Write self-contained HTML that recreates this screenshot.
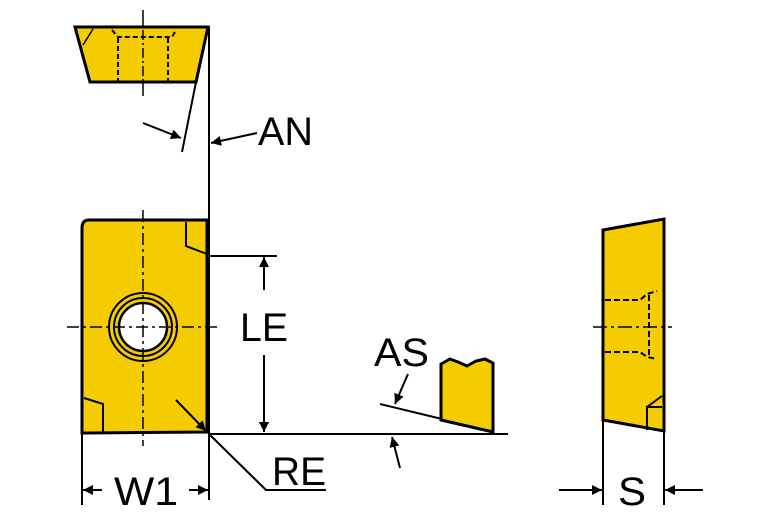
<!DOCTYPE html>
<html><head><meta charset="utf-8"><style>
html,body{margin:0;padding:0;background:#fff;}
svg{display:block;}
text{font-family:"Liberation Sans",sans-serif;fill:#000;}
</style></head><body>
<svg width="767" height="523" viewBox="0 0 767 523" xmlns="http://www.w3.org/2000/svg">
<defs>
<marker id="ah" viewBox="0 0 10 10" refX="10" refY="5" markerWidth="16" markerHeight="10" markerUnits="userSpaceOnUse" orient="auto"><path d="M0,0 L10,5 L0,10 z" fill="#000"/></marker>
</defs>
<!-- top view -->
<line x1="143" y1="10" x2="143" y2="96" stroke="#000" stroke-width="1.5"/>
<polygon points="75,27 208,27 196,82 90,82" fill="#f5cc00" stroke="#000" stroke-width="3"/>
<path d="M93,29 L83,45" stroke="#000" stroke-width="1.5" fill="none"/>
<path d="M112,30 L118,37 L172,37 L176,30" stroke="#000" stroke-width="2" stroke-dasharray="5,3" fill="none"/>
<line x1="118" y1="38" x2="118" y2="81" stroke="#000" stroke-width="2" stroke-dasharray="5,3"/>
<line x1="168" y1="38" x2="168" y2="81" stroke="#000" stroke-width="2" stroke-dasharray="5,3"/>
<line x1="143" y1="30" x2="143" y2="81" stroke="#000" stroke-width="1.5" stroke-dasharray="10,3,2,3"/>
<line x1="209" y1="27" x2="209" y2="500" stroke="#000" stroke-width="2"/>
<line x1="196" y1="82" x2="182" y2="152" stroke="#000" stroke-width="2"/>
<line x1="143" y1="123" x2="181" y2="138" stroke="#000" stroke-width="2" marker-end="url(#ah)"/>
<line x1="257" y1="133" x2="211" y2="143" stroke="#000" stroke-width="2" marker-end="url(#ah)"/>
<text x="258" y="145" font-size="40" textLength="55" lengthAdjust="spacingAndGlyphs">AN</text>
<!-- main insert -->
<path d="M89,220 L207,220 L207,432 L86,433 L82,433 L82,228 Q82,220 89,220 Z" fill="#f5cc00" stroke="#000" stroke-width="3"/>
<path d="M186,222 L186,246 L207,254" stroke="#000" stroke-width="2" fill="none"/>
<path d="M84,398 L103,404 L103,432" stroke="#000" stroke-width="2" fill="none"/>
<circle cx="143" cy="327" r="34" fill="#f5cc00" stroke="#000" stroke-width="2"/>
<circle cx="143" cy="327" r="29" fill="#f5cc00" stroke="#000" stroke-width="2"/>
<circle cx="143" cy="327" r="24" fill="#fff" stroke="#000" stroke-width="2.5"/>
<line x1="67" y1="327" x2="221" y2="327" stroke="#000" stroke-width="1.5" stroke-dasharray="12,4,3,4"/>
<line x1="143" y1="210" x2="143" y2="446" stroke="#000" stroke-width="1.5" stroke-dasharray="12,4,3,4"/>
<line x1="176" y1="400" x2="206" y2="431" stroke="#000" stroke-width="2" marker-end="url(#ah)"/>
<!-- LE -->
<line x1="209" y1="256" x2="277" y2="256" stroke="#000" stroke-width="2"/>
<line x1="209" y1="434" x2="508" y2="434" stroke="#000" stroke-width="2"/>
<line x1="264" y1="290" x2="264" y2="257" stroke="#000" stroke-width="2" marker-end="url(#ah)"/>
<line x1="264" y1="355" x2="264" y2="432" stroke="#000" stroke-width="2" marker-end="url(#ah)"/>
<text x="240" y="341" font-size="40" textLength="48" lengthAdjust="spacingAndGlyphs">LE</text>
<!-- W1 -->
<line x1="82" y1="434" x2="82" y2="505" stroke="#000" stroke-width="2"/>
<line x1="102" y1="490" x2="83" y2="490" stroke="#000" stroke-width="2" marker-end="url(#ah)"/>
<line x1="189" y1="490" x2="208" y2="490" stroke="#000" stroke-width="2" marker-end="url(#ah)"/>
<text x="114" y="505" font-size="40" textLength="64" lengthAdjust="spacingAndGlyphs">W1</text>
<!-- RE -->
<polyline points="209,434 266,490 326,490" stroke="#000" stroke-width="2" fill="none"/>
<text x="272" y="485" font-size="40" textLength="54" lengthAdjust="spacingAndGlyphs">RE</text>
<!-- AS -->
<line x1="380" y1="404" x2="442" y2="419" stroke="#000" stroke-width="2"/>
<path d="M441,364 L450,359 L458,362 L467,366 L476,361 L485,359 L493,363 L493,432 L441,420 Z" fill="#f5cc00" stroke="#000" stroke-width="3"/>
<line x1="408" y1="374" x2="395" y2="404" stroke="#000" stroke-width="2" marker-end="url(#ah)"/>
<line x1="400" y1="468" x2="392" y2="437" stroke="#000" stroke-width="2" marker-end="url(#ah)"/>
<text x="374" y="366" font-size="40" textLength="55" lengthAdjust="spacingAndGlyphs">AS</text>
<!-- right view -->
<polygon points="603,230 664,219 664,431 603,420" fill="#f5cc00" stroke="#000" stroke-width="3"/>
<path d="M647,430 L647,407 L662,407 M647,407 L662,396" stroke="#000" stroke-width="2" fill="none"/>
<path d="M605,300 L640,300 L647,294 L657,291" stroke="#000" stroke-width="2" stroke-dasharray="6,3" fill="none"/>
<path d="M605,352 L640,352 L647,357 L657,359" stroke="#000" stroke-width="2" stroke-dasharray="6,3" fill="none"/>
<line x1="649" y1="295" x2="649" y2="355" stroke="#000" stroke-width="2" stroke-dasharray="6,3"/>
<line x1="593" y1="327" x2="672" y2="327" stroke="#000" stroke-width="1.5" stroke-dasharray="14,4,3,4"/>
<line x1="603" y1="420" x2="603" y2="505" stroke="#000" stroke-width="2"/>
<line x1="664" y1="431" x2="664" y2="505" stroke="#000" stroke-width="2"/>
<line x1="559" y1="490" x2="602" y2="490" stroke="#000" stroke-width="2" marker-end="url(#ah)"/>
<line x1="703" y1="490" x2="665" y2="490" stroke="#000" stroke-width="2" marker-end="url(#ah)"/>
<text x="618" y="505" font-size="40" textLength="28" lengthAdjust="spacingAndGlyphs">S</text>
</svg>
</body></html>
